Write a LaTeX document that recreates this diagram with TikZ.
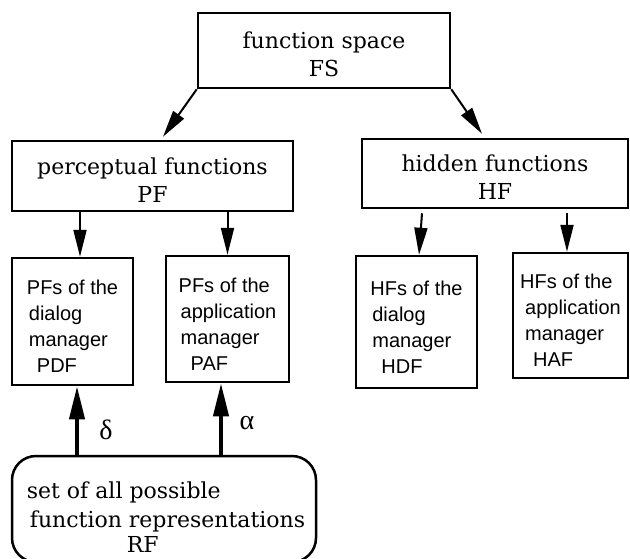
\documentclass[tikz,border=0pt]{standalone}
\usepackage{fontspec}
\setmainfont{DejaVu Serif}
\setsansfont{Liberation Sans}
\newfontfamily\greekfont{Liberation Serif}
\usetikzlibrary{arrows.meta}

\tikzset{
  frame/.style = {rectangle, draw = black, line width = 2.5pt, inner sep = 0pt},
  bigtext/.style = {align = center, inner sep = 0pt, yshift = -4pt, font = \fontsize{22}{28}\selectfont},
  subtext/.style = {align = left, inner sep = 0pt, yshift = -5pt, font = \sffamily\fontsize{20}{26}\selectfont},
  thin arrow/.style = {line width = 2pt, -{Triangle[length = 27pt, width = 13pt]}},
  thick arrow/.style = {line width = 4pt, -{Triangle[length = 33pt, width = 15pt]}},
  greek/.style = {font = \greekfont\fontsize{28}{30}\selectfont, inner sep = 0pt}
}

\begin{document}
\begin{tikzpicture}[x = 1pt, y = -1pt]

	\useasboundingbox (0, 0) rectangle (630, 558);

	% top level
	\node (FS)  at (324, 50.5)  [frame, minimum width = 252pt, minimum height = 75pt] {};
	\node (PF)  at (152.5, 176) [frame, minimum width = 281pt, minimum height = 70pt] {};
	\node (HF)  at (495, 173.5) [frame, minimum width = 266pt, minimum height = 69pt] {};
	\node (FStext) at (FS) [bigtext] {function space \\ FS};
	\node (PFtext) at (PF) [bigtext] {perceptual functions \\ PF};
	\node (HFtext) at (HF) [bigtext] {hidden functions \\ HF};

	% sub functions
	\node (PDF) at (72.5, 321.5) [frame, minimum width = 121pt, minimum height = 127pt] {};
	\node (PAF) at (227.5, 319) [frame, minimum width = 123pt, minimum height = 126pt] {};
	\node (HDF) at (416.5, 322) [frame, minimum width = 121pt, minimum height = 132pt] {};
	\node (HAF) at (570.5, 315.5) [frame, minimum width = 115pt, minimum height = 125pt] {};
	\node (PDFtext) at (PDF) [subtext] {PFs of the \\ \hspace*{2pt}dialog \\ \hspace*{2pt}manager \\ \hspace*{10pt}PDF};
	\node (PAFtext) at (PAF) [subtext] {PFs of the \\ \hspace*{2pt}application \\ \hspace*{2pt}manager \\ \hspace*{12pt}PAF};
	\node (HDFtext) at (HDF) [subtext] {HFs of the \\ \hspace*{2pt}dialog \\ \hspace*{2pt}manager \\ \hspace*{11pt}HDF};
	\node (HAFtext) at (HAF) [subtext] {HFs of the \\ \hspace*{5pt}application \\ \hspace*{5pt}manager \\ \hspace*{13pt}HAF};

	% representations
	\node (RF)  at (164, 509) [frame, rounded corners = 24pt, minimum width = 304pt, minimum height = 106pt] {};
	\node (RFtext) at ([xshift = 2pt]RF) [bigtext, align = left, yshift = -4pt] {set of all possible \\[1pt] \hspace*{3pt}function representations \\[-3pt] \hspace*{100pt}RF};

	\node (delta) at (106, 430) [greek] {δ};
	\node (alpha) at (247, 423) [greek] {α};

	\draw[thin arrow] (FS.south west) -- ([xshift = 10.5pt, yshift = 3pt]PF.north);
	\draw[thin arrow] (FS.south east) -- ([xshift = -13pt, yshift = 4pt]HF.north);
	\draw[thin arrow] ([xshift = 7.5pt]PDF.north |- PF.south) -- ([xshift = 7.5pt]PDF.north);
	\draw[thin arrow] (PAF.north |- PF.south) -- (PAF.north);
	\draw[thin arrow] ([xshift = 5.5pt, yshift = -4pt]HDF.north |- HF.south) -- ([xshift = 2.5pt]HDF.north);
	\draw[thin arrow] ([xshift = -3.5pt, yshift = -4pt]HAF.north |- HF.south) -- ([xshift = -3.5pt]HAF.north);

	\foreach \to/\dx in {PDF/4.5, PAF/-6.5}
		\draw[thick arrow] ([xshift = \dx pt]\to.south |- RF.north) -- ([xshift = \dx pt]\to.south);
\end{tikzpicture}
\end{document}
